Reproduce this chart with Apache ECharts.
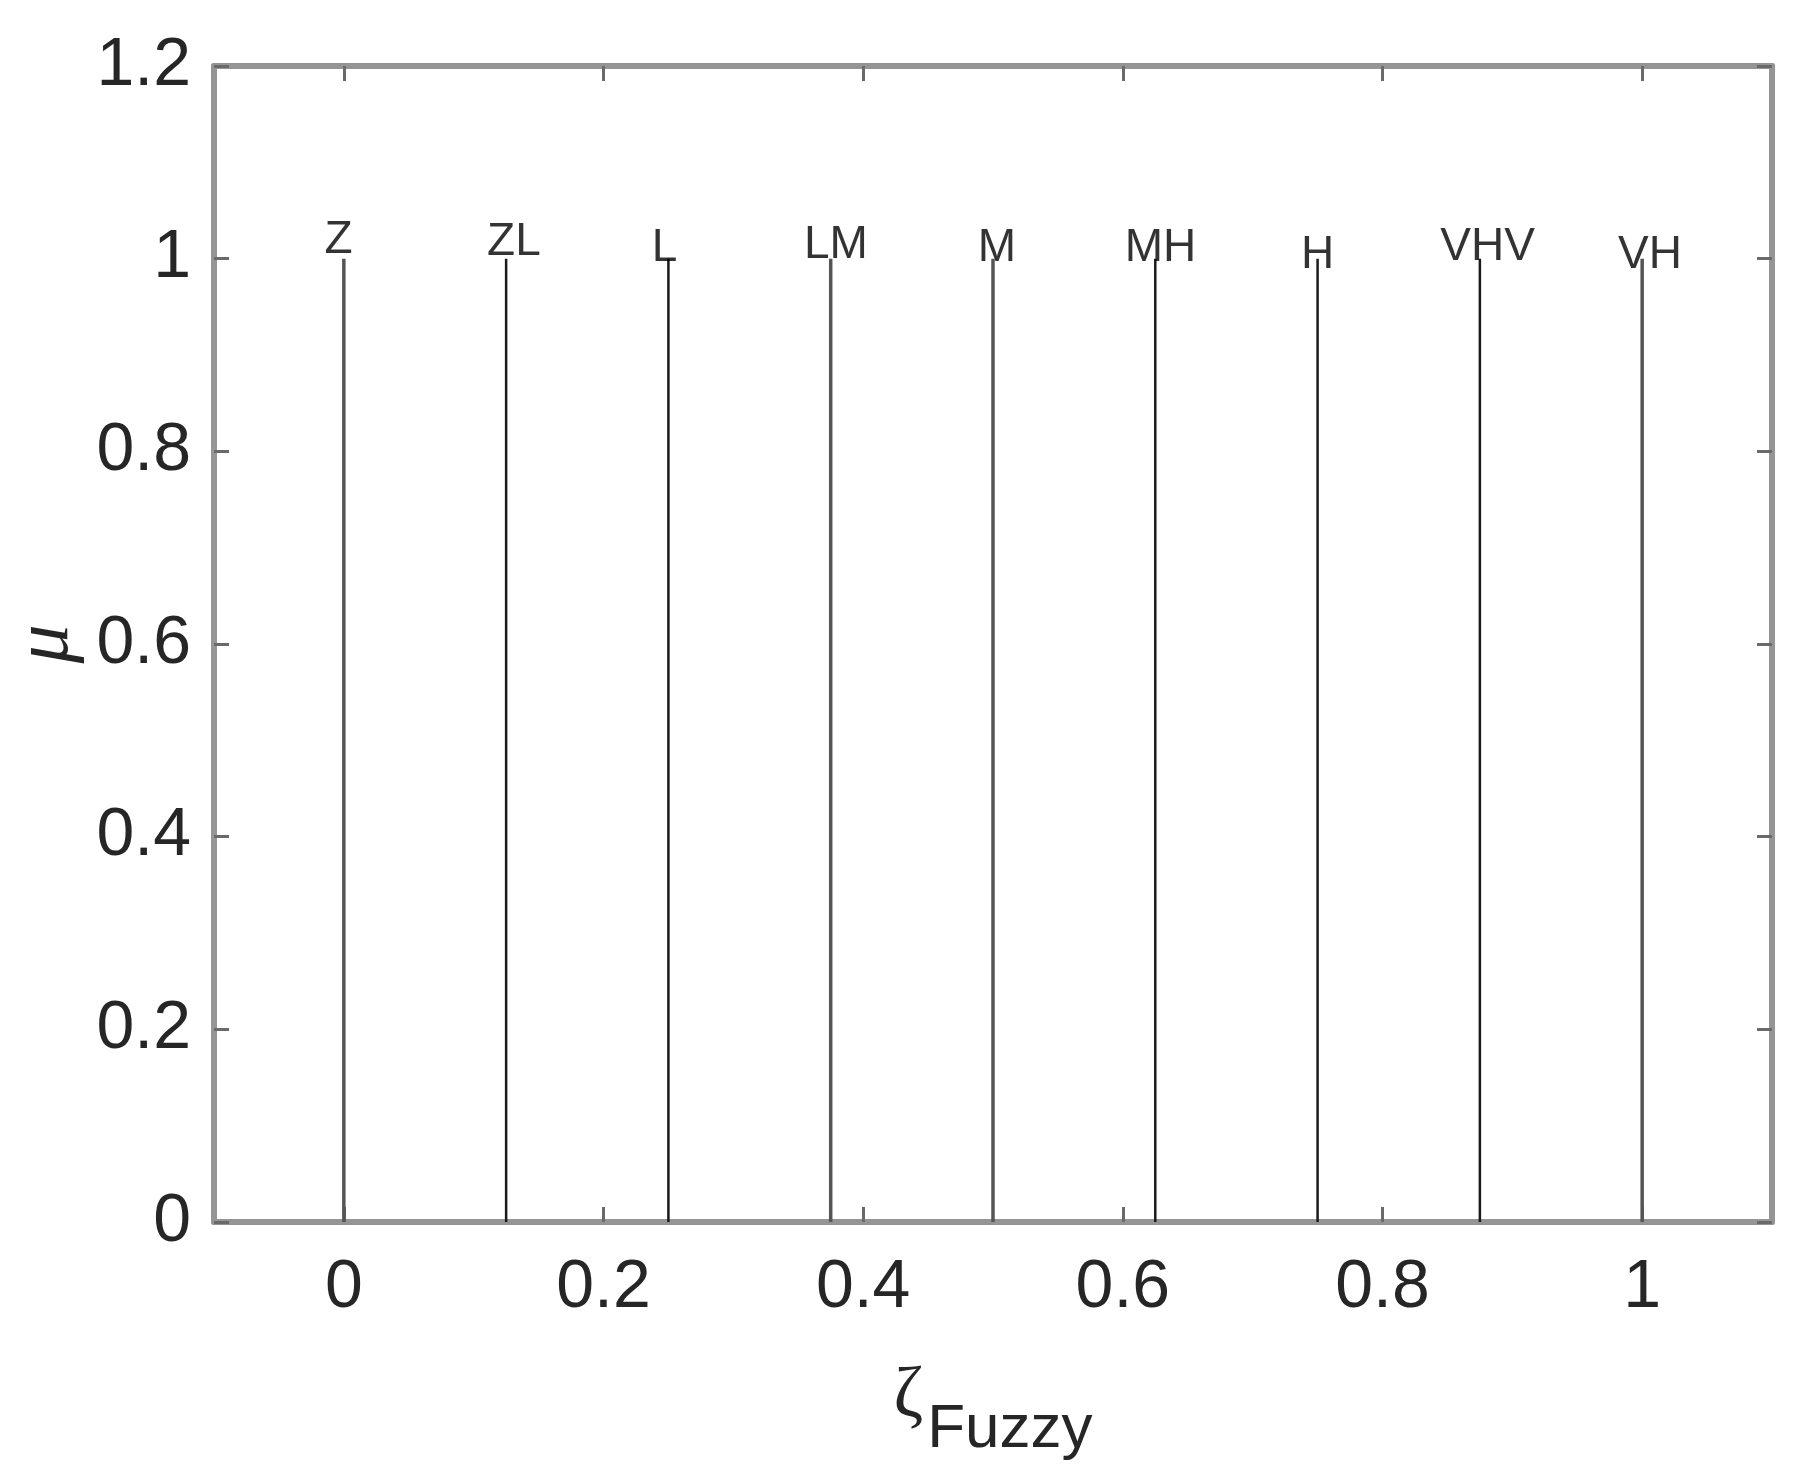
<!DOCTYPE html>
<html>
<head>
<meta charset="utf-8">
<script src="https://cdn.jsdelivr.net/npm/echarts@6/dist/echarts.min.js"></script>
<style>
html,body{margin:0;padding:0;background:#fff;}
#chart{width:1797px;height:1484px;}
</style>
</head>
<body>
<div id="chart"></div>
<script>
// ---- data ----
const termNames = ['Z','ZL','L','LM','M','MH','H','VHV','VH'];
const stemX = [0, 0.125, 0.25, 0.375, 0.5, 0.625, 0.75, 0.875, 1];
const stemMu = [1, 1, 1, 1, 1, 1, 1, 1, 1];
// text anchor points (data units), as placed in the original figure
const labelX = [-0.004, 0.131, 0.247, 0.379, 0.503, 0.629, 0.750, 0.881, 1.006];
const labelY = [1.019, 1.017, 1.011, 1.014, 1.011, 1.011, 1.004, 1.012, 1.004];
const xTicks = [0, 0.2, 0.4, 0.6, 0.8, 1];
const yTicks = [0, 0.2, 0.4, 0.6, 0.8, 1, 1.2];

// ---- styles ----
const stemColors = ['#555','#1a1a1a','#1a1a1a','#555','#555','#1a1a1a','#1a1a1a','#1a1a1a','#555'];
const axisGray = '#959595';
const tickGray = '#6a6a6a';
const fontFam = '"Liberation Sans", Arial, Helvetica, sans-serif';
const serifFam = '"Liberation Serif", "DejaVu Serif", serif';

const chart = echarts.init(document.getElementById('chart'));

function fmt(v){ return String(Math.round(v*10)/10); }

const baseX = {
  type:'value', min:-0.1, max:1.1,
  axisLine:{show:true, onZero:false, lineStyle:{color:axisGray, width:6}},
  axisTick:{show:true, inside:true, length:15, customValues:xTicks, lineStyle:{color:tickGray, width:3}},
  splitLine:{show:false}
};
const baseY = {
  type:'value', min:0, max:1.2, interval:0.2,
  axisLine:{show:true, onZero:false, lineStyle:{color:axisGray, width:6}},
  axisTick:{show:true, inside:true, length:15, lineStyle:{color:tickGray, width:3}},
  splitLine:{show:false}
};

const option = {
  backgroundColor:'#fff',
  animation:false,
  grid:{left:214, right:25, top:66, bottom:262, containLabel:false, outerBoundsMode:'none'},
  xAxis:[
    Object.assign({}, baseX, {
      position:'bottom',
      axisLabel:{show:true, customValues:xTicks, formatter:fmt, margin:32,
        fontSize:68, fontFamily:fontFam, color:'#262626'},
      name:'{z|ζ}{s|Fuzzy}', nameLocation:'middle', nameGap:124,
      nameTextStyle:{rich:{
        z:{fontSize:72, fontFamily:serifFam, color:'#262626', lineHeight:115, padding:[15,4,0,0], verticalAlign:'top'},
        s:{fontSize:62, fontFamily:fontFam, color:'#262626', lineHeight:62, verticalAlign:'bottom'}
      }}
    }),
    Object.assign({}, baseX, {position:'top', axisLabel:{show:false}})
  ],
  yAxis:[
    Object.assign({}, baseY, {
      position:'left',
      axisLabel:{show:true, formatter:fmt, margin:23, fontSize:68, fontFamily:fontFam, color:'#262626'},
      name:'μ', nameLocation:'middle', nameGap:122, nameRotate:90,
      nameTextStyle:{fontSize:78, fontStyle:'italic', fontFamily:serifFam, color:'#262626'}
    }),
    Object.assign({}, baseY, {position:'right', axisLabel:{show:false}})
  ],
  series:[
    {
      type:'custom',
      xAxisIndex:0, yAxisIndex:0,
      data: stemX.map((x,i)=>[x, stemMu[i]]),
      renderItem:function(params, api){
        const x = api.value(0), y = api.value(1);
        const p0 = api.coord([x, 0]);
        const p1 = api.coord([x, y]);
        const i = params.dataIndex;
        return {
          type:'line',
          shape:{x1:p0[0], y1:p0[1], x2:p1[0], y2:p1[1]},
          style:{stroke:stemColors[i], lineWidth: stemColors[i]==='#555'?3.5:2.5}
        };
      },
      z:2
    },
    {
      type:'scatter',
      xAxisIndex:0, yAxisIndex:0,
      symbolSize:0,
      data: labelX.map((x,i)=>({value:[x, labelY[i]], name:termNames[i]})),
      label:{show:true, position:'inside', formatter:p=>p.name,
        fontSize:46, fontFamily:fontFam, color:'#000'},
      z:3
    }
  ]
};
chart.setOption(option);
</script>
</body>
</html>
